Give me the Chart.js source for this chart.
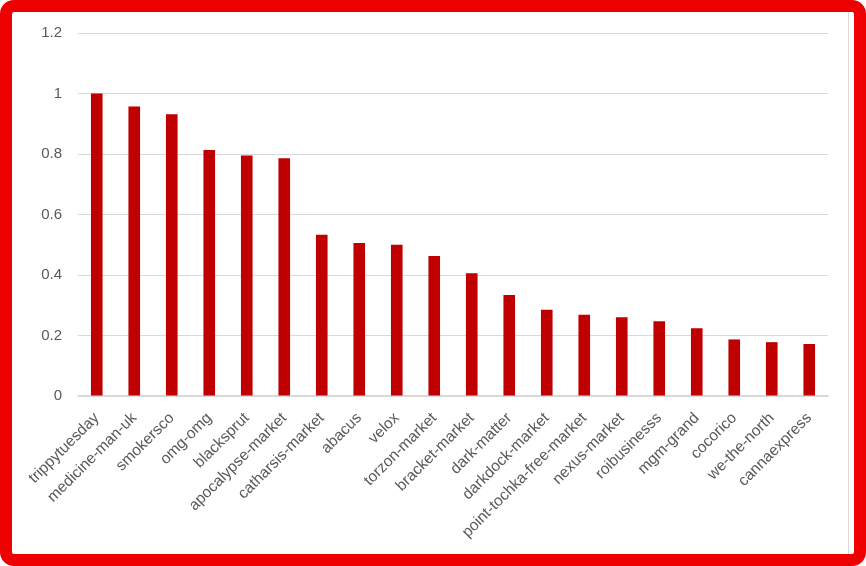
<!DOCTYPE html>
<html>
<head>
<meta charset="utf-8">
<script src="https://cdn.jsdelivr.net/npm/chart.js@4/dist/chart.umd.min.js"></script>
<style>
  html, body { margin: 0; padding: 0; background: #ffffff; }
  #frame {
    position: absolute; left: 0; top: 0;
    width: 866px; height: 566px;
    box-sizing: border-box;
    border: 12px solid #EE0000;
    border-radius: 14px;
    background: #ffffff;
  }
  #wrap { position: absolute; left: 0; top: 0; width: 842px; height: 542px; }
  #edge { position: absolute; left: 836px; top: 0; width: 1px; height: 542px; background: #DADADA; }
</style>
</head>
<body>
<div id="frame"><div id="edge"></div><div id="wrap"><canvas id="c" width="842" height="542"></canvas></div></div>
<script>
const categories = [
  "trippytuesday", "medicine-man-uk", "smokersco", "omg-omg", "blacksprut",
  "apocalypse-market", "catharsis-market", "abacus", "velox", "torzon-market",
  "bracket-market", "dark-matter", "darkdock-market", "point-tochka-free-market",
  "nexus-market", "roibusinesss", "mgm-grand", "cocorico", "we-the-north", "cannaexpress"
];
const values = [
  1.0, 0.957, 0.931, 0.813, 0.795,
  0.786, 0.533, 0.506, 0.500, 0.463,
  0.406, 0.334, 0.285, 0.269,
  0.260, 0.247, 0.224, 0.187, 0.178, 0.172
];
const yMin = 0, yMax = 1.2, yStep = 0.2;

const FONT = "'Liberation Sans', Arial, sans-serif";
new Chart(document.getElementById('c'), {
  type: 'bar',
  data: {
    labels: categories,
    datasets: [{
      data: values,
      backgroundColor: '#C00000',
      borderWidth: 0,
      barPercentage: 0.31,
      categoryPercentage: 1.0
    }]
  },
  options: {
    responsive: false,
    animation: false,
    devicePixelRatio: 1,
    layout: { padding: { left: 0, right: 26, top: 21, bottom: 0 } },
    plugins: { legend: { display: false }, tooltip: { enabled: false } },
    scales: {
      x: {
        grid: { display: false, drawTicks: false },
        border: { display: true, color: '#D9D9D9', width: 1.5 },
        ticks: {
          color: '#595959',
          font: { family: FONT, size: 15.5 },
          minRotation: 45, maxRotation: 45,
          autoSkip: false,
          padding: 13
        },
        afterFit: (s) => { s.height = 158; }
      },
      y: {
        min: yMin, max: yMax,
        grid: { color: '#D9D9D9', lineWidth: 1, drawTicks: false },
        border: { display: false },
        ticks: {
          stepSize: yStep,
          color: '#595959',
          font: { family: FONT, size: 15 },
          padding: 16,
          callback: (v) => String(+Number(v).toFixed(1))
        },
        afterFit: (s) => { s.width = 66; s.paddingTop = 0; s.paddingBottom = 0; }
      }
    }
  }
});
</script>
</body>
</html>
